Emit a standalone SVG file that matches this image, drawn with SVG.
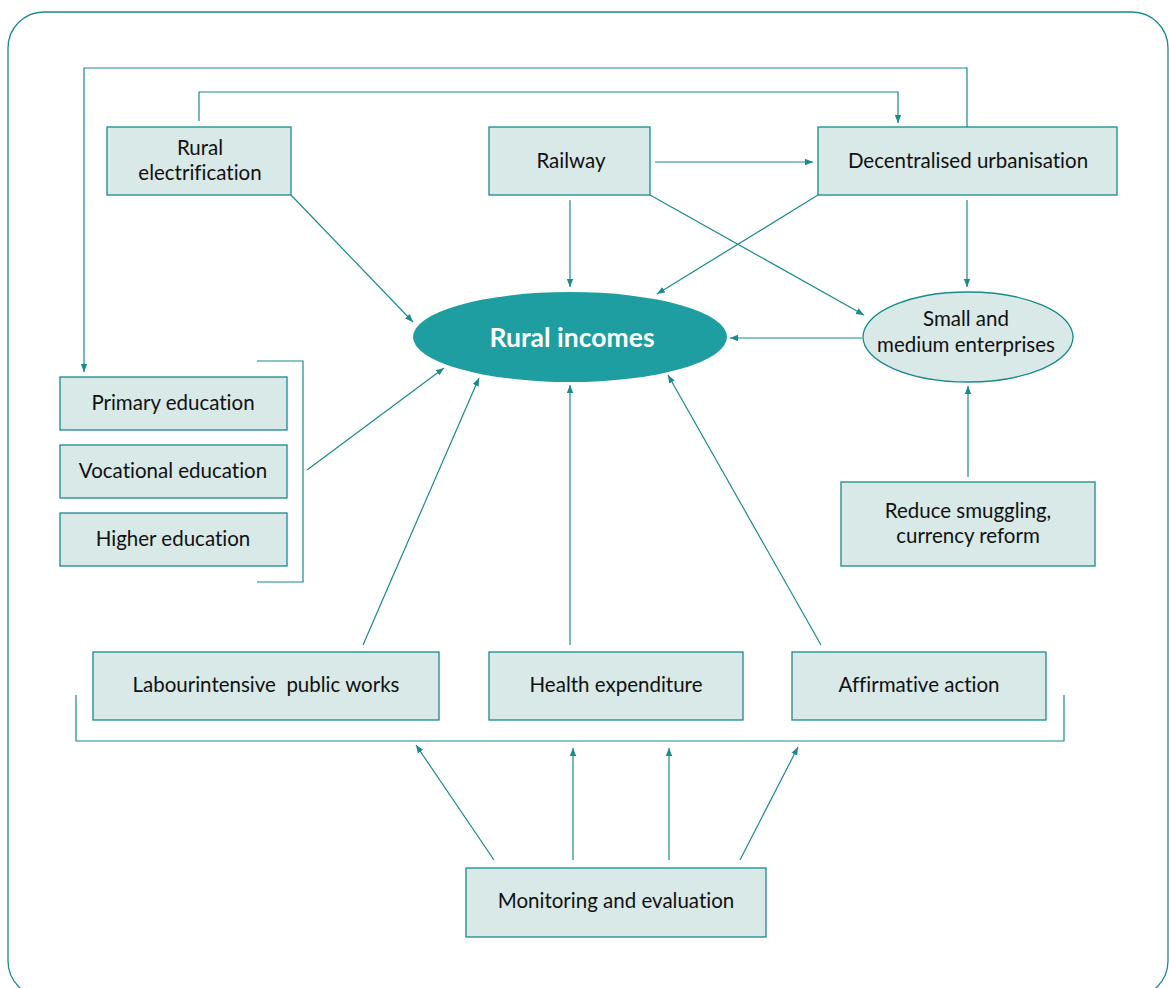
<svg xmlns="http://www.w3.org/2000/svg" width="1169" height="988" viewBox="0 0 1169 988">
<style>
.box{fill:#d8e9e8;stroke:#1a8a8c;stroke-width:1.3}
.t{font-family:"Lato","Liberation Sans",sans-serif;font-size:20.5px;fill:#111;text-anchor:middle;font-variant-ligatures:none}
.c{fill:none;stroke:#1a8a8c;stroke-width:1.2}
</style>
<defs>
<marker id="a" viewBox="0 0 10 10" refX="10" refY="5" markerWidth="8" markerHeight="8" markerUnits="userSpaceOnUse" orient="auto">
<path d="M0,1 L10,5 L0,9 Z" fill="#1a8a8c"/>
</marker>
</defs>
<rect x="8" y="12" width="1160" height="985" rx="36" fill="none" stroke="#1a8a8c" stroke-width="1.3"/>
<g id="connectors">
<polyline class="c" points="199,121 199,92 898,92 898,123" marker-end="url(#a)"/>
<polyline class="c" points="967,127 967,68 84,68 84,372" marker-end="url(#a)"/>
<line class="c" x1="655" y1="162" x2="813" y2="162" marker-end="url(#a)"/>
<line class="c" x1="291" y1="195" x2="413" y2="322" marker-end="url(#a)"/>
<line class="c" x1="570" y1="200" x2="570" y2="287" marker-end="url(#a)"/>
<line class="c" x1="818" y1="195" x2="657" y2="294" marker-end="url(#a)"/>
<line class="c" x1="650" y1="195" x2="864" y2="315" marker-end="url(#a)"/>
<line class="c" x1="967" y1="200" x2="967" y2="287" marker-end="url(#a)"/>
<line class="c" x1="862" y1="338" x2="730" y2="338" marker-end="url(#a)"/>
<line class="c" x1="968" y1="477" x2="968" y2="386" marker-end="url(#a)"/>
<polyline class="c" points="257,361 303,361 303,582 257,582"/>
<line class="c" x1="307" y1="470" x2="444" y2="368" marker-end="url(#a)"/>
<line class="c" x1="363" y1="645" x2="479" y2="378" marker-end="url(#a)"/>
<line class="c" x1="570" y1="645" x2="570" y2="385" marker-end="url(#a)"/>
<line class="c" x1="821" y1="645" x2="668" y2="375" marker-end="url(#a)"/>
<polyline class="c" points="76,695 76,741 1064,741 1064,695"/>
<line class="c" x1="494" y1="860" x2="416" y2="745" marker-end="url(#a)"/>
<line class="c" x1="573" y1="860" x2="573" y2="748" marker-end="url(#a)"/>
<line class="c" x1="669" y1="860" x2="669" y2="748" marker-end="url(#a)"/>
<line class="c" x1="740" y1="860" x2="798" y2="747" marker-end="url(#a)"/>
</g>
<g id="rural-electrification"><rect class="box" x="107" y="127" width="184" height="68"/><text class="t" x="200" y="155">Rural</text><text class="t" x="200" y="180">electrification</text></g>
<g id="railway"><rect class="box" x="489" y="127" width="161" height="68"/><text class="t" x="571" y="168">Railway</text></g>
<g id="decentralised-urbanisation"><rect class="box" x="818" y="127" width="299" height="68"/><text class="t" x="968" y="168">Decentralised urbanisation</text></g>
<g id="rural-incomes"><ellipse cx="570" cy="337" rx="157" ry="45" fill="#1e9ea0"/><text x="572" y="347" font-family="Lato,'Liberation Sans',sans-serif" font-size="26.5" font-weight="bold" fill="#fff" text-anchor="middle">Rural incomes</text></g>
<g id="sme"><ellipse cx="968" cy="337" rx="105" ry="45" fill="#d8e9e8" stroke="#1a8a8c" stroke-width="1.3"/><text class="t" x="966" y="326">Small and</text><text class="t" x="966" y="352">medium enterprises</text></g>
<g id="reduce-smuggling"><rect class="box" x="841" y="482" width="254" height="84"/><text class="t" x="968" y="518">Reduce smuggling,</text><text class="t" x="968" y="543">currency reform</text></g>
<g id="primary-education"><rect class="box" x="60" y="377" width="227" height="53"/><text class="t" x="173" y="410">Primary education</text></g>
<g id="vocational-education"><rect class="box" x="60" y="445" width="227" height="53"/><text class="t" x="173" y="478">Vocational education</text></g>
<g id="higher-education"><rect class="box" x="60" y="513" width="227" height="53"/><text class="t" x="173" y="546">Higher education</text></g>
<g id="labour-works"><rect class="box" x="93" y="652" width="346" height="68"/><text class="t" x="266" y="692" xml:space="preserve">Labourintensive  public works</text></g>
<g id="health-expenditure"><rect class="box" x="489" y="652" width="254" height="68"/><text class="t" x="616" y="692">Health expenditure</text></g>
<g id="affirmative-action"><rect class="box" x="792" y="652" width="254" height="68"/><text class="t" x="919" y="692">Affirmative action</text></g>
<g id="monitoring-evaluation"><rect class="box" x="466" y="868" width="300" height="69"/><text class="t" x="616" y="908">Monitoring and evaluation</text></g>
</svg>
